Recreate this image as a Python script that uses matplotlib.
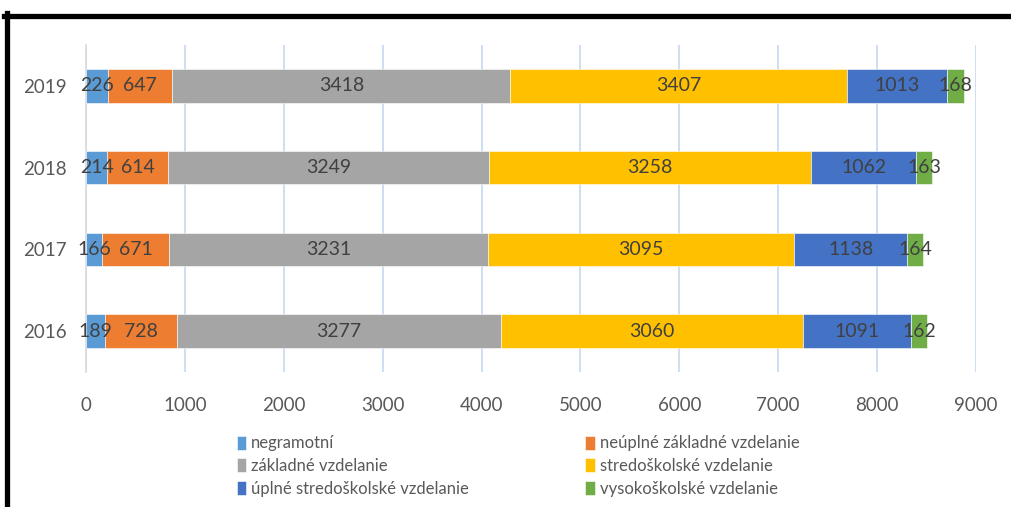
import matplotlib.pyplot as plt
from matplotlib.lines import Line2D
import numpy as np

plt.rcParams['font.family'] = ['Lato', 'DejaVu Sans']

years = ['2016', '2017', '2018', '2019']
series = [
    'negramotní',
    'neúplné základné vzdelanie',
    'základné vzdelanie',
    'stredoškolské vzdelanie',
    'úplné stredoškolské vzdelanie',
    'vysokoškolské vzdelanie',
]
negramotni = [189, 166, 214, 226]
neuplne_zakladne = [728, 671, 614, 647]
zakladne = [3277, 3231, 3249, 3418]
stredoskolske = [3060, 3095, 3258, 3407]
uplne_stredoskolske = [1091, 1138, 1062, 1013]
vysokoskolske = [162, 164, 163, 168]
colors = ['#5b9bd5', '#ed7d31', '#a5a5a5', '#ffc000', '#4472c4', '#70ad47']

values = [negramotni, neuplne_zakladne, zakladne, stredoskolske,
          uplne_stredoskolske, vysokoskolske]

fig = plt.figure(figsize=(10.11, 5.07), dpi=100)
ax = fig.add_axes([86 / 1011, 1 - 372 / 507, 890 / 1011, 327 / 507])

y = np.arange(len(years))
left = np.zeros(len(years))
for name, vals, col in zip(series, values, colors):
    vals = np.array(vals, dtype=float)
    bars = ax.barh(y, vals, left=left, height=0.41, color=col, label=name,
                   edgecolor='white', linewidth=0.4, zorder=3)
    for b, v in zip(bars, vals):
        ax.text(b.get_x() + b.get_width() / 2, b.get_y() + b.get_height() / 2,
                str(int(v)), ha='center', va='center', fontsize=14,
                color='#404040', zorder=4)
    left += vals

ax.set_xlim(0, 9000)
ax.set_ylim(-0.5, 3.5)
ax.set_xticks(np.arange(0, 9001, 1000))
ax.set_yticks(y)
ax.set_yticklabels(years)
ax.tick_params(axis='both', length=0, labelsize=13.5, labelcolor='#595959')
ax.tick_params(axis='x', pad=18)
ax.tick_params(axis='y', pad=14)
ax.grid(axis='x', color='#c5d9f1', linewidth=1.2, zorder=0)
for s in ['top', 'right', 'bottom']:
    ax.spines[s].set_visible(False)
ax.spines['left'].set_color('#d9d9d9')
ax.spines['left'].set_linewidth(1.2)

handles, labels = ax.get_legend_handles_labels()
order = [0, 2, 4, 1, 3, 5]
fig.legend([handles[i] for i in order], [labels[i] for i in order],
           loc='center', bbox_to_anchor=(518 / 1011, 1 - 466 / 507), ncol=2,
           frameon=False, fontsize=12, handlelength=0.55, handleheight=0.9,
           handletextpad=0.3, columnspacing=7.0, labelspacing=0.4,
           labelcolor='#595959')

# black frame visible on top and left
fig.add_artist(Line2D([4 / 1011, 1], [1 - 15.5 / 507, 1 - 15.5 / 507],
                      color='black', linewidth=3.8, transform=fig.transFigure))
fig.add_artist(Line2D([6.5 / 1011, 6.5 / 1011], [0, 1 - 13 / 507],
                      color='black', linewidth=3.8, transform=fig.transFigure))

fig.savefig('out.png', dpi=100)
